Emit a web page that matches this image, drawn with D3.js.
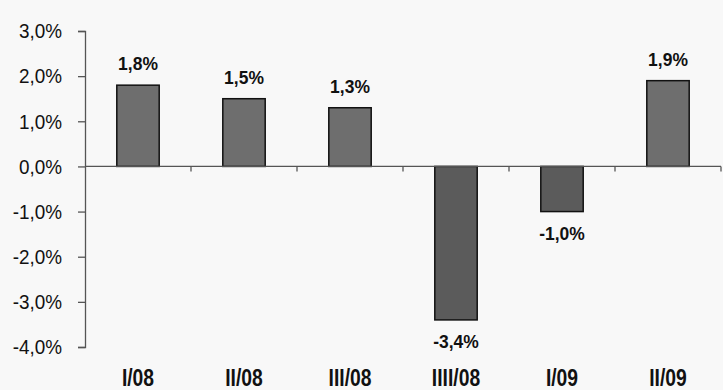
<!DOCTYPE html>
<html><head><meta charset="utf-8">
<script src="https://cdn.jsdelivr.net/npm/d3@7"></script>
<style>
html,body{margin:0;padding:0;background:#f8f8f8;}
svg{display:block;}
</style></head>
<body>
<svg id="chart" width="723" height="390"></svg>
<script>
// Quarterly change, percent
const categories = ["I/08", "II/08", "III/08", "IIII/08", "I/09", "II/09"];
const values = [1.8, 1.5, 1.3, -3.4, -1.0, 1.9];
const tickValues = [3, 2, 1, 0, -1, -2, -3, -4];

const W = 723, H = 390;
const m = {left: 85, right: 2, top: 31, bottom: 43};
const FONT = "'Liberation Sans', Arial, sans-serif";

const svg = d3.select("#chart");
svg.append("rect").attr("width", W).attr("height", H).attr("fill", "#f8f8f8");

const x = d3.scaleBand()
  .domain(categories)
  .range([m.left, W - m.right])
  .paddingInner(0.6)
  .paddingOuter(0.3);

const y = d3.scaleLinear()
  .domain([-4, 3])
  .range([H - m.bottom, m.top]);

const fmt = v => d3.format(".1f")(v).replace("−", "-").replace(".", ",") + "%";

// value axis
const yAxis = d3.axisLeft(y).tickValues(tickValues).tickSize(7).tickPadding(0).tickFormat(fmt);
const gy = svg.append("g").attr("transform", `translate(${m.left},0)`).call(yAxis);
gy.select(".domain").attr("stroke", "#555").attr("stroke-width", 1.3);
gy.selectAll(".tick line").attr("stroke", "#555").attr("stroke-width", 1.3);
gy.selectAll(".tick text")
  .attr("x", null)
  .attr("transform", "translate(-23,0) scale(0.9,1)")
  .attr("fill", "#111")
  .style("font-family", FONT)
  .style("font-size", "21px");

// bars
svg.append("g").selectAll("rect").data(values).join("rect")
  .attr("x", (d, i) => x(categories[i]))
  .attr("width", x.bandwidth())
  .attr("y", d => y(Math.max(0, d)))
  .attr("height", d => Math.abs(y(d) - y(0)))
  .attr("fill", d => d < 0 ? "#5b5b5b" : "#6e6e6e")
  .attr("stroke", "#111")
  .attr("stroke-width", 1.5);

// zero line with category ticks
const y0 = y(0);
const gx = svg.append("g");
gx.append("line")
  .attr("x1", m.left).attr("x2", W - m.right)
  .attr("y1", y0).attr("y2", y0)
  .attr("stroke", "#555").attr("stroke-width", 1.3);
const step = x.step();
const bounds = d3.range(1, categories.length + 1).map(i => m.left + i * step);
gx.selectAll("line.tk").data(bounds).join("line").attr("class", "tk")
  .attr("x1", d => d).attr("x2", d => d)
  .attr("y1", y0).attr("y2", y0 + 5)
  .attr("stroke", "#555").attr("stroke-width", 1.3);

// value labels
svg.append("g").selectAll("text").data(values).join("text")
  .attr("transform", (d, i) => {
    const cx = x(categories[i]) + x.bandwidth() / 2;
    const ty = d >= 0 ? y(d) - 15 : y(d) + 28;
    return `translate(${cx},${ty}) scale(0.92,1)`;
  })
  .attr("text-anchor", "middle")
  .attr("fill", "#111")
  .style("font-family", FONT)
  .style("font-weight", "bold")
  .style("font-size", "19px")
  .text(fmt);

// category labels
svg.append("g").selectAll("text").data(categories).join("text")
  .attr("transform", d => `translate(${x(d) + x.bandwidth() / 2},386) scale(0.84,1)`)
  .attr("text-anchor", "middle")
  .attr("fill", "#111")
  .style("font-family", FONT)
  .style("font-weight", "bold")
  .style("font-size", "23px")
  .text(d => d);
</script>
</body></html>
